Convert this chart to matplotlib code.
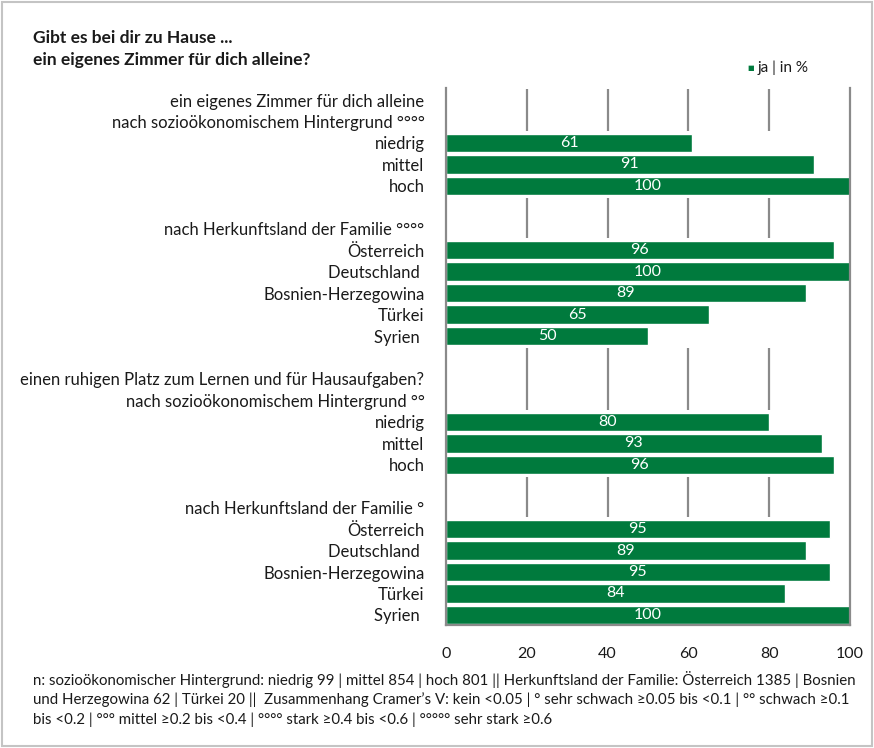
import matplotlib.pyplot as plt
from matplotlib.patches import Rectangle

plt.rcParams['font.family'] = ['Lato', 'DejaVu Sans']

GREEN = '#007a3d'
GRID = '#8a8a8a'
W, H = 874, 748

title_lines = ['Gibt es bei dir zu Hause ...', 'ein eigenes Zimmer für dich alleine?']
legend_label = 'ja | in %'

ses_labels = ['niedrig', 'mittel', 'hoch']
origin_labels = ['Österreich', 'Deutschland ', 'Bosnien-Herzegowina', 'Türkei', 'Syrien ']

room_ses = [61, 91, 100]
room_origin = [96, 100, 89, 65, 50]
quiet_ses = [80, 93, 96]
quiet_origin = [95, 89, 95, 84, 100]

blocks = [
    (['ein eigenes Zimmer für dich alleine', 'nach sozioökonomischem Hintergrund °°°°'], ses_labels, room_ses),
    (['nach Herkunftsland der Familie °°°°'], origin_labels, room_origin),
    (['einen ruhigen Platz zum Lernen und für Hausaufgaben?', 'nach sozioökonomischem Hintergrund °°'], ses_labels, quiet_ses),
    (['nach Herkunftsland der Familie °'], origin_labels, quiet_origin),
]
x_ticks = [0, 20, 40, 60, 80, 100]

footnote = [
    'n: sozioökonomischer Hintergrund: niedrig 99 | mittel 854 | hoch 801 || Herkunftsland der Familie: Österreich 1385 | Bosnien',
    'und Herzegowina 62 | Türkei 20 ||  Zusammenhang Cramer’s V: kein <0.05 | ° sehr schwach ≥0.05 bis <0.1 | °° schwach ≥0.1',
    'bis <0.2 | °°° mittel ≥0.2 bis <0.4 | °°°° stark ≥0.4 bis <0.6 | °°°°° sehr stark ≥0.6',
]

# build the row layout: header rows, bar rows, blank row between blocks
row_labels, bar_pos, bar_vals, spans = [], [], [], []
for i, (heads, cats, vals) in enumerate(blocks):
    if i > 0:
        row_labels.append('')
    row_labels.extend(heads)
    start = len(row_labels)
    for c, v in zip(cats, vals):
        bar_pos.append(len(row_labels))
        bar_vals.append(v)
        row_labels.append(c)
    spans.append((start, len(row_labels) - 1))

fig = plt.figure(figsize=(W / 100, H / 100), dpi=100, facecolor='white')
fig.patches.append(Rectangle((2 / W, 2 / H), 1 - 4 / W, 1 - 4 / H, transform=fig.transFigure,
                             fill=False, edgecolor='#c4c4c4', lw=1.5))

ax = fig.add_axes([446 / W, 1 - 625 / H, 404 / W, 537 / H])
y_top, y_bot = -0.56, 24.47
ax.set_xlim(0, 100)
ax.set_ylim(y_bot, y_top)

# vertical gridlines only in the gaps between bar groups
gaps = [(y_top, spans[0][0] - 0.5)]
for (s0, e0), (s1, e1) in zip(spans[:-1], spans[1:]):
    gaps.append((e0 + 0.5, s1 - 0.5))
for x in x_ticks[1:-1]:
    for g0, g1 in gaps:
        ax.vlines(x, g0 + 0.05, g1 - 0.05, color=GRID, lw=1.6, zorder=1)

bars = ax.barh(bar_pos, bar_vals, height=0.86, color=GREEN, edgecolor='white', lw=1, zorder=2)
for b, v in zip(bars, bar_vals):
    ax.text(v / 2, b.get_y() + b.get_height() / 2, str(v), color='white', fontsize=11.5,
            ha='center', va='center', zorder=3)

for side in ['left', 'right', 'bottom']:
    ax.spines[side].set_color(GRID)
    ax.spines[side].set_linewidth(1.6)
ax.spines['top'].set_visible(False)

ax.set_yticks(range(len(row_labels)))
ax.set_yticklabels(row_labels, fontsize=12, color='#1a1a1a')
ax.set_xticks(x_ticks)
ax.set_xticklabels([str(t) for t in x_ticks], fontsize=11.5, color='#1a1a1a')
ax.tick_params(axis='y', length=0, pad=15.5)
ax.tick_params(axis='x', length=0, pad=16)

for k, line in enumerate(title_lines):
    fig.text(33 / W, 1 - (38 + 22 * k) / H, line, fontsize=12.5, fontweight='bold',
             color='#1a1a1a', ha='left', va='center')

fig.text(751 / W, 1 - 68 / H, '■', color=GREEN, fontsize=5, ha='center', va='center',
         family=['DejaVu Sans'])
fig.text(758 / W, 1 - 68 / H, legend_label, fontsize=11, color='#1a1a1a', ha='left', va='center')

for k, line in enumerate(footnote):
    fig.text(33 / W, 1 - (679 + 20.5 * k) / H, line, fontsize=10.8, color='#1a1a1a',
             ha='left', va='center')

fig.savefig('out.png', dpi=100, facecolor='white')
